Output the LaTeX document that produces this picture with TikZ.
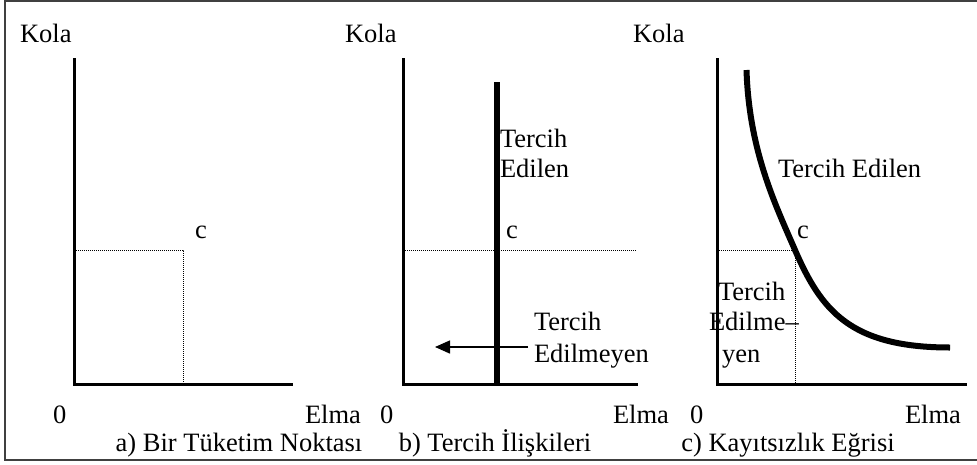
\documentclass[tikz,border=0pt]{standalone}
\usepackage{fontspec}
\setmainfont{Liberation Serif}
\usetikzlibrary{arrows.meta}
\begin{document}
\begin{tikzpicture}[x=1pt,y=-1pt,
  lbl/.style={anchor=base west,inner sep=0pt,outer sep=0pt,font=\fontsize{26.5}{30}\selectfont},
  captiontext/.style={anchor=base,inner sep=0pt,outer sep=0pt,font=\fontsize{26.5}{30}\selectfont},
  axis/.style={line width=3pt},
  guide/.style={line width=1pt,dash pattern=on 1pt off 1pt},
  heavy/.style={line width=6pt},
  frame/.style={line width=2pt,draw=black!75}]
\useasboundingbox (0,0) rectangle (977,464);
% outer frame
\draw[frame] (977,1) -- (5,1) -- (5,460) -- (977,460);

% ---------- a) one consumption point ----------
\coordinate (aY) at (74,58);
\coordinate (aO) at (74,384);
\coordinate (aX) at (293,384);
\coordinate (aC) at (183,250);
\draw[axis] (aY) -- (aO) -- (aX);
\draw[guide] (aO |- aC) -- (aC) -- (aC |- aO);
\node[lbl] (aKola) at (20,42) {Kola};
\node[lbl] (aCl) at (195,238) {c};
\node[lbl] (aZero) at (53,423) {0};
\node[lbl] (aElma) at (305,423) {Elma};
\node[captiontext] (aCap) at (239,451) {a) Bir Tüketim Noktası};

% ---------- b) preference relations ----------
\coordinate (bY) at (403,58);
\coordinate (bO) at (403,384);
\coordinate (bX) at (638,384);
\coordinate (bTop) at (497,82);
\coordinate (bBot) at (497,384);
\coordinate (bC) at (636,250);
\draw[axis] (bY) -- (bO) -- (bX);
\draw[guide] (bO |- bC) -- (bC);
\draw[heavy,line cap=butt] (bTop) -- (bBot);
\coordinate (bArrS) at (528,347);
\coordinate (bArrE) at (435,347);
\draw[line width=1.5pt,-{Triangle[length=15pt,width=13pt]}] (bArrS) -- (bArrE);
\node[lbl] (bKola) at (345,42) {Kola};
\node[lbl] (bT1) at (500,147) {Tercih};
\node[lbl] (bT2) at (500,177) {Edilen};
\node[lbl] (bCl) at (506,238) {c};
\node[lbl] (bN1) at (534,330) {Tercih};
\node[lbl] (bN2) at (534,362) {Edilmeyen};
\node[lbl] (bZero) at (380,423) {0};
\node[lbl] (bElma) at (613,423) {Elma};
\node[captiontext] (bCap) at (495,451) {b) Tercih İlişkileri};

% ---------- c) indifference curve ----------
\coordinate (cY) at (717,58);
\coordinate (cO) at (717,384);
\coordinate (cX) at (967,384);
\coordinate (cC) at (795,250);
\coordinate (cStart) at (746.5,70);
\coordinate (cEnd) at (950,347.5);
\draw[axis] (cY) -- (cO) -- (cX);
\draw[guide] (cO |- cC) -- (cC) -- (cC |- cO);
\draw[heavy,line cap=butt] (cStart) .. controls (749,150) and (775,204) .. (cC)
  .. controls (821,310) and (850,347.5) .. (cEnd);
\node[lbl] (cKola) at (633,42) {Kola};
\node[lbl] (cPref) at (778,177) {Tercih Edilen};
\node[lbl] (cCl) at (797,238) {c};
\node[lbl] (cN1) at (718,300) {Tercih};
\node[lbl] (cN2) at (709,330) {Edilme–};
\node[lbl] (cN3) at (722,362) {yen};
\node[lbl] (cZero) at (690,423) {0};
\node[lbl] (cElma) at (905,423) {Elma};
\node[captiontext] (cCap) at (788,451) {c) Kayıtsızlık Eğrisi};
\end{tikzpicture}
\end{document}
